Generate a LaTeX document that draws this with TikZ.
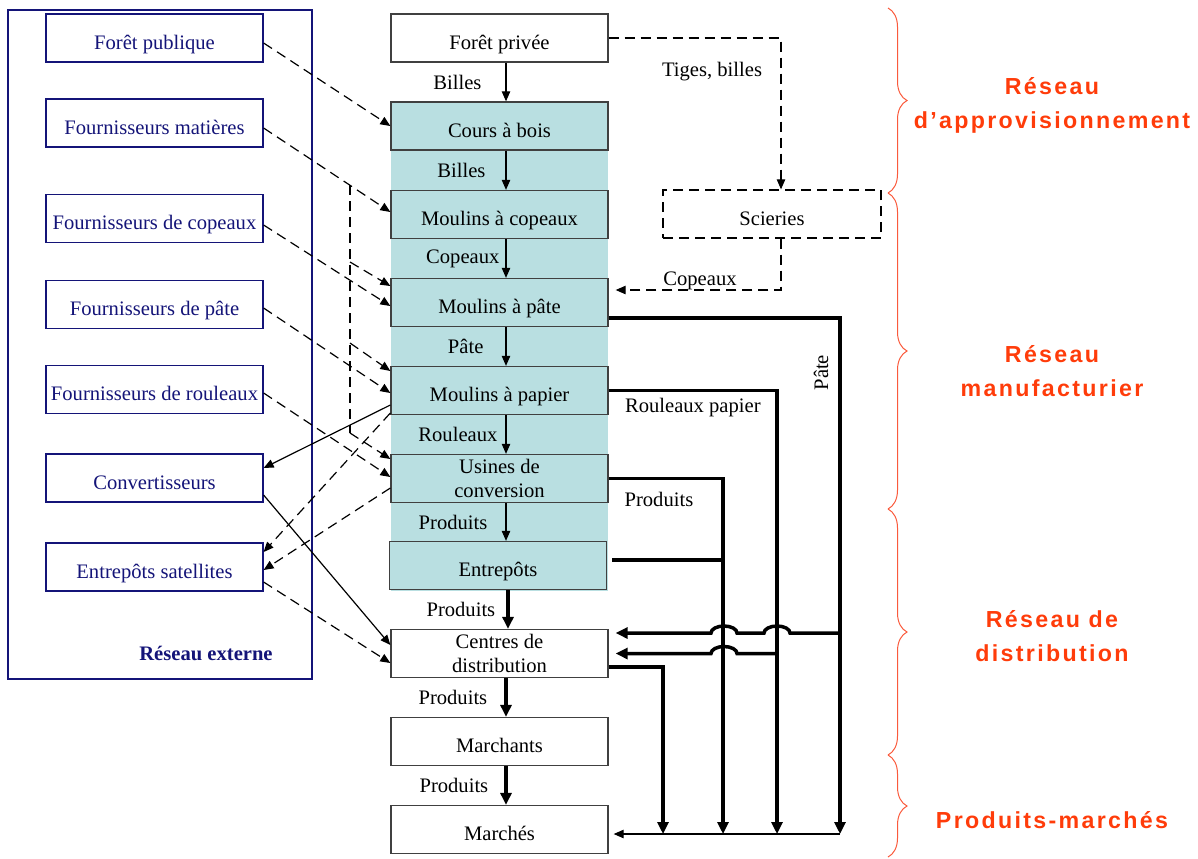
\documentclass[tikz,border=0pt]{standalone}
\usepackage{fontspec}
\setmainfont{Liberation Serif}
\newfontfamily\sidefont[LetterSpace=10]{Liberation Sans}
\usetikzlibrary{arrows.meta,decorations.pathreplacing}

\definecolor{bleunuit}{RGB}{20,20,120}
\definecolor{sarcelle}{RGB}{185,223,225}
\definecolor{orangerouge}{RGB}{255,60,10}
\definecolor{accolade}{RGB}{250,90,60}

\tikzset{
  ext/.style={draw=bleunuit, text=bleunuit, line width=0.6pt, minimum width=108.5pt, minimum height=24pt, inner sep=1pt, text height=11pt, text depth=0pt},
  etape/.style={draw=black!75, line width=0.65pt, minimum width=108.5pt, minimum height=24pt, inner sep=1pt, align=center, text height=11pt, text depth=0pt},
  usine/.style={etape, fill=sarcelle},
  deuxlignes/.style={text height={}, text depth={}},
  flux/.style={line width=0.6pt, -{Triangle[length=5pt,width=4.2pt]}},
  gros/.style={line width=1.75pt, -{Triangle[length=6pt,width=5.5pt]}},
  ligne/.style={line width=1.75pt},
  tiret/.style={line width=0.6pt, dash pattern=on 5pt off 3pt, -{Triangle[length=5pt,width=4.2pt]}},
  pointille/.style={line width=0.6pt, dash pattern=on 5pt off 3pt},
  etiq/.style={inner sep=0pt},
  cote/.style={text=orangerouge, align=center, font=\sidefont\bfseries\fontsize{11.6}{17}\selectfont},
  acco/.style={accolade, line width=0.5pt, decorate, decoration={brace, amplitude=9.5pt}}
}

\begin{document}
\begin{tikzpicture}[x=0.5pt, y=-0.5pt, font=\fontsize{10.3}{12.4}\selectfont]
  \useasboundingbox (0,0) rectangle (1198,858);

  % reseau externe
  \draw[bleunuit, line width=0.6pt] (8,10) rectangle (312,679);
  \node[ext] (pub)    at (154.5,38)  {Forêt publique};
  \node[ext] (mat)    at (154.5,123) {Fournisseurs matières};
  \node[ext] (cop)    at (154.5,218.5) {Fournisseurs de copeaux};
  \node[ext] (pate)   at (154.5,304.5) {Fournisseurs de pâte};
  \node[ext] (roul)   at (154.5,389.5) {Fournisseurs de rouleaux};
  \node[ext] (conv)   at (154.5,478) {Convertisseurs};
  \node[ext] (entsat) at (154.5,567) {Entrepôts satellites};
  \node[text=bleunuit, font=\fontsize{10.3}{12.4}\selectfont\bfseries] (externe) at (206,653) {Réseau externe};

  % chaine principale
  \fill[sarcelle] (391,102) rectangle (608,591);
  \node[etape] (privee)    at (499.5,38)    {Forêt privée};
  \node[usine] (cours)     at (499.5,126)   {Cours à bois};
  \node[usine] (mcop)      at (499.5,214.5) {Moulins à copeaux};
  \node[usine] (mpate)     at (499.5,302.5) {Moulins à pâte};
  \node[usine] (mpap)      at (499.5,390.5) {Moulins à papier};
  \node[usine, deuxlignes] (usines) at (499.5,478.5) {Usines de\\conversion};
  \node[usine] (entrep)    at (498,565.5)   {Entrepôts};
  \node[etape, deuxlignes] (centres) at (499.5,653.5) {Centres de\\distribution};
  \node[etape] (marchants) at (499.5,741.5) {Marchants};
  \node[etape] (marches)   at (499.5,829.5) {Marchés};
  \node[etape, draw=black, dash pattern=on 5pt off 3pt, minimum width=109pt] (scie) at (772,214) {Scieries};

  \coordinate (col) at (506,0);
  \coordinate (col2) at (508,0);
  \draw[flux] (privee.south -| col) -- (cours.north -| col) node[etiq, midway, left=12pt] {Billes};
  \draw[flux] (cours.south -| col) -- (mcop.north -| col) node[etiq, midway, left=10pt] {Billes};
  \draw[flux] (mcop.south -| col) -- (mpate.north -| col) node[etiq, midway, left=3pt] {Copeaux};
  \draw[flux] (mpate.south -| col) -- (mpap.north -| col) node[etiq, midway, left=11pt] {Pâte};
  \draw[flux] (mpap.south -| col) -- (usines.north -| col) node[etiq, midway, left=4pt] {Rouleaux};
  \draw[flux] (usines.south -| col) -- (entrep.north -| col) node[etiq, midway, left=9pt] {Produits};
  \draw[gros] (entrep.south -| col2) -- (centres.north -| col2) node[etiq, midway, left=5.5pt] {Produits};
  \draw[gros] (centres.south -| col) -- (marchants.north -| col) node[etiq, midway, left=8.5pt] {Produits};
  \draw[gros] (marchants.south -| col) -- (marches.north -| col) node[etiq, midway, left=8pt] {Produits};

  % scieries
  \draw[tiret] (privee.east) -| ([xshift=4.5pt]scie.north) node[etiq, pos=0.3, below=12pt] {Tiges, billes};
  \draw[tiret] ([xshift=4.5pt]scie.south) |- ([xshift=3.5pt,yshift=6.25pt]mpate.east) node[etiq, pos=0.745, above=0pt] {Copeaux};

  % fournisseurs vers la chaine
  \coordinate (embr) at (350,185);
  \coordinate (b1) at (350,262);
  \coordinate (b2) at (350,343);
  \coordinate (coude) at (350,433);
  \draw[tiret] ([yshift=-2.5pt]pub.east) -- (cours.west);
  \draw[tiret] ([yshift=-2.5pt]mat.east) -- ([yshift=1.25pt]mcop.west);
  \draw[pointille] (embr) -- (coude);
  \draw[tiret] (coude) -- ([yshift=9.75pt]usines.west);
  \draw[tiret] (b1) -- ([yshift=8.25pt]mpate.west);
  \draw[tiret] (b2) -- ([yshift=9.75pt]mpap.west);
  \draw[tiret] ([yshift=-3.25pt]cop.east) -- ([yshift=-1.75pt]mpate.west);
  \draw[tiret] ([yshift=-1.75pt]pate.east) -- ([yshift=-1.25pt]mpap.west);
  \draw[tiret] ([yshift=-1.75pt]roul.east) -- ([yshift=0.75pt]usines.west);
  \draw[flux] ([yshift=-7.25pt]mpap.west) -- ([yshift=5pt]conv.east);
  \draw[tiret] ([yshift=-11.25pt]mpap.west) -- ([yshift=7.5pt]entsat.east);
  \draw[tiret] ([yshift=-4.75pt]usines.west) -- ([yshift=-1.5pt]entsat.east);
  \draw[flux] ([yshift=-8.5pt]conv.east) -- ([yshift=4.25pt]centres.west);
  \draw[tiret] ([yshift=-7.5pt]entsat.east) -- ([yshift=-4.75pt]centres.west);

  % lignes vers les marches
  \coordinate (busA) at (663,0);
  \coordinate (busB) at (723,0);
  \coordinate (busC) at (777,0);
  \coordinate (busD) at (840,0);
  \coordinate (lane) at ([xshift=2.5pt,yshift=-2.25pt]marches.east);
  \coordinate (entout) at ([xshift=2.5pt,yshift=2.75pt]entrep.east);
  \coordinate (cin1) at ([xshift=3.5pt,yshift=10.25pt]centres.east);
  \coordinate (cin2) at ([xshift=3.5pt]centres.east);
  \draw[gros] ([yshift=-7.75pt]mpate.east) -| (lane -| busD) node[pos=0.553, rotate=90, anchor=south, inner sep=5pt] {Pâte};
  \draw[gros] (mpap.east) -| (lane -| busC) node[etiq, pos=0.25, below=3pt] {Rouleaux papier};
  \draw[gros] (usines.east) -| (lane -| busB) node[etiq, pos=0.22, below=6pt] {Produits};
  \draw[ligne] (entout) -- (entout -| busB);
  \draw[gros] ([yshift=-6.75pt]centres.east) -| (lane -| busA);
  \draw[flux] (lane -| busD) -- (lane);
  \draw[gros] (cin1 -| busD) -- ++(-50,0) arc[start angle=0, end angle=-180, x radius=13, y radius=7]
    -- ++(-27,0) arc[start angle=0, end angle=-180, x radius=13, y radius=7] -- (cin1);
  \draw[gros] (cin2 -| busC) -- ++(-40,0) arc[start angle=0, end angle=-180, x radius=13, y radius=7] -- (cin2);

  % niveaux du reseau
  \draw[acco] (888,8) -- (888,193);
  \draw[acco] (888,193) -- (888,509);
  \draw[acco] (888,509) -- (888,755);
  \draw[acco] (888,755) -- (888,857);
  \node[cote] (appro) at (1052,105) {Réseau\\d’approvisionnement};
  \node[cote] (manuf) at (1052,371) {Réseau\\manufacturier};
  \node[cote] (distrib) at (1052,636) {Réseau de\\distribution};
  \node[cote] (prodmar) at (1052,820) {Produits-marchés};
\end{tikzpicture}
\end{document}
